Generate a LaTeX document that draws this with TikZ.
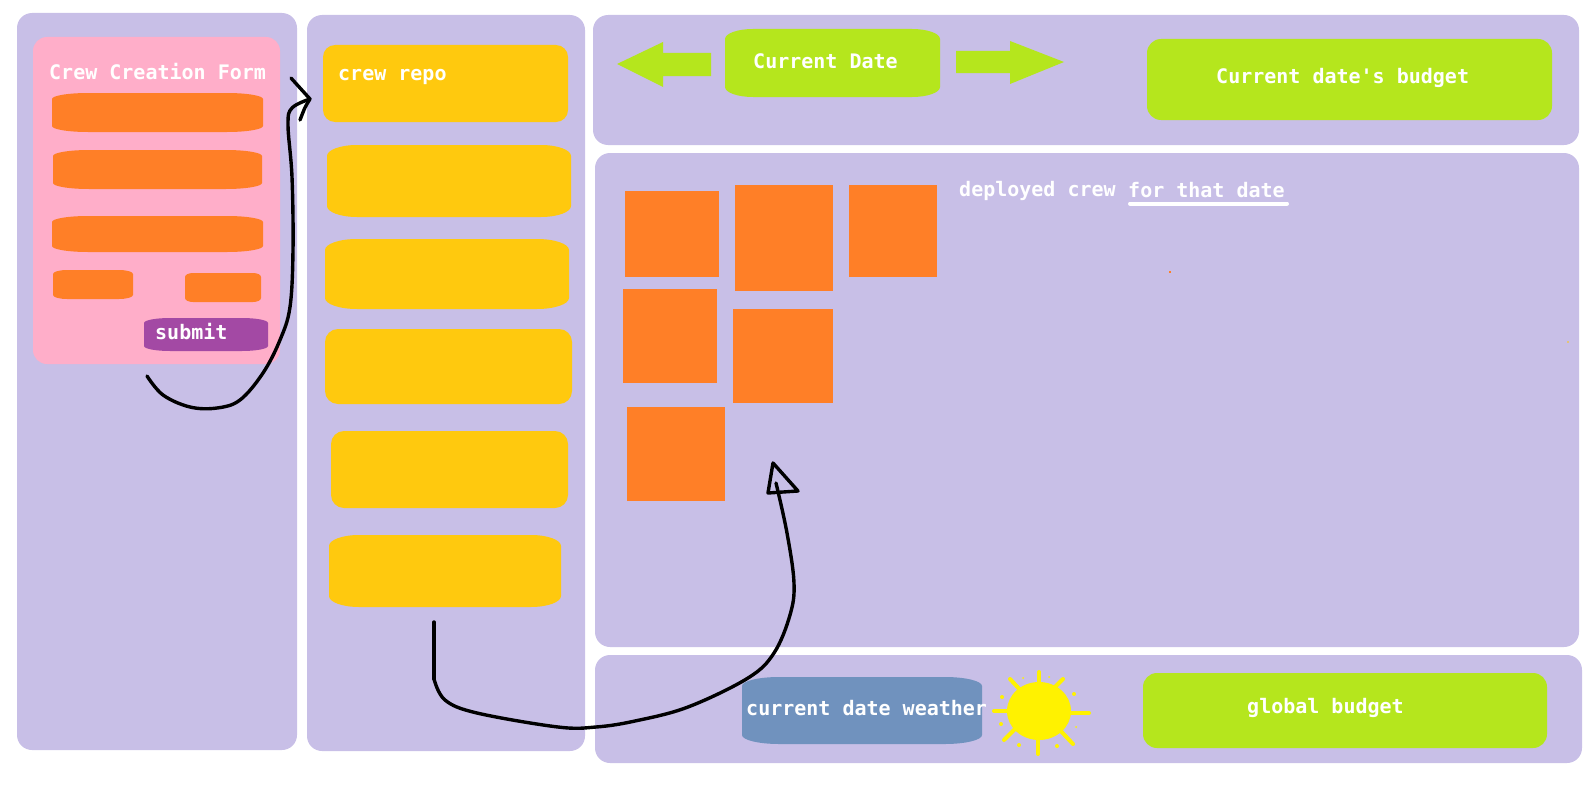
\documentclass[tikz,border=0pt]{standalone}
\usepackage{fontspec}
\setmainfont{DejaVu Sans Mono}[Ligatures=TeXOff]
\usetikzlibrary{calc}
\definecolor{panelcol}{HTML}{C8BFE7}
\definecolor{formcol}{HTML}{FFAEC9}
\definecolor{fieldcol}{HTML}{FF7F27}
\definecolor{repocol}{HTML}{FFC90E}
\definecolor{limecol}{HTML}{B5E61D}
\definecolor{submitcol}{HTML}{A349A4}
\definecolor{weathercol}{HTML}{7092BE}
\definecolor{suncol}{HTML}{FFF200}
\def\softbox[#1](#2,#3,#4,#5)(#6:#7){\fill[#1] ({#2+#6},#3) -- ({#4-#6},#3) arc[start angle=-90,end angle=0,x radius=#6,y radius=#7] -- (#4,{#5-#7}) arc[start angle=0,end angle=90,x radius=#6,y radius=#7] -- ({#2+#6},#5) arc[start angle=90,end angle=180,x radius=#6,y radius=#7] -- (#2,{#3+#7}) arc[start angle=180,end angle=270,x radius=#6,y radius=#7] -- cycle;}
\tikzset{
	boxlabel/.style={anchor=base west, inner sep=0pt, text=white, font=\fontsize{20}{20}\selectfont\bfseries},
	handline/.style={line width=3.4pt, color=black, line cap=round, line join=round},
	sunray/.style={line width=4pt, color=suncol, line cap=round}
}

\begin{document}
\begin{tikzpicture}[x=1pt, y=-1pt]
		%%%%% START %%%%%
		
		\useasboundingbox (0, 0) rectangle (1592, 784);
		
		% panels
		\softbox[panelcol](17, 13, 297, 750)(15:15);
		\softbox[panelcol](307, 15, 585, 751)(15:15);
		\softbox[panelcol](593, 15, 1579, 145)(15:15);
		\softbox[panelcol](595, 153, 1579, 647)(15:15);
		\softbox[panelcol](595, 655, 1582, 763)(15:15);
		
		% form
		\softbox[formcol](33, 37, 280, 364)(14:14);
		\softbox[fieldcol](52, 93, 263, 132)(36:6);
		\softbox[fieldcol](53, 150, 262, 189)(36:6);
		\softbox[fieldcol](52, 216, 263, 252)(36:6);
		\softbox[fieldcol](53, 270, 133, 299)(14:4);
		\softbox[fieldcol](185, 273, 261, 302)(8:4);
		\softbox[submitcol](144, 318, 268, 351)(26:5);
		\node[boxlabel] (formtitle) at (49, 79) {Crew Creation Form};
		\node[boxlabel] (submitlabel) at (155, 339) {submit};
		
		% crew repo
		\softbox[repocol](323, 45, 568, 122)(12:12);
		\softbox[repocol](327, 145, 571, 217)(30:11);
		\softbox[repocol](325, 239, 569, 309)(32:11);
		\softbox[repocol](325, 329, 572, 404)(13:13);
		\softbox[repocol](331, 431, 568, 508)(13:13);
		\softbox[repocol](329, 535, 561, 607)(30:11);
		\node[boxlabel] (repolabel) at (338, 81) {crew repo};
		
		% date bar
		\softbox[limecol](725, 29, 940, 97)(28:10);
		\fill[limecol] (617, 64) -- (663, 42) -- (663, 53) -- (711, 53) -- (711, 76) -- (663, 76) -- (663, 87) -- cycle;
		\fill[limecol] (1064, 62) -- (1010, 41) -- (1010, 51) -- (956, 51) -- (956, 73) -- (1010, 73) -- (1010, 84) -- cycle;
		\softbox[limecol](1147, 39, 1552, 120)(14:14);
		\node[boxlabel] (datelabel) at (753, 68) {Current Date};
		\node[boxlabel] (budgetlabel) at (1216, 83) {Current date's budget};
		
		% deployed crew
		\fill[fieldcol] (625, 191) rectangle (719, 277);
		\fill[fieldcol] (735, 185) rectangle (833, 291);
		\fill[fieldcol] (849, 185) rectangle (937, 277);
		\fill[fieldcol] (623, 289) rectangle (717, 383);
		\fill[fieldcol] (733, 309) rectangle (833, 403);
		\fill[fieldcol] (627, 407) rectangle (725, 501);
		\fill[fieldcol] (1169, 271) rectangle (1171, 273);
		\fill[repocol] (1568, 342) circle (0.8);
		\node[boxlabel] (deployedlabel) at (959, 196) {deployed crew};
		\node[boxlabel] (thatdatelabel) at (1128, 197) {for that date};
		\draw[line width=4pt, color=white, line cap=round] (1130, 203.5) -- (1287, 203.5);
		
		% bottom bar
		\softbox[weathercol](742, 677, 982, 744)(37:9);
		\node[boxlabel] (weatherlabel) at (746, 715) {current date weather};
		\softbox[limecol](1143, 673, 1547, 748)(14:14);
		\node[boxlabel] (globallabel) at (1247, 713) {global budget};
		
		% sun
		\fill[suncol] (1039, 711) ellipse (32 and 29);
		\draw[sunray] (1039, 672) -- (1039, 690);
		\draw[sunray] (1063, 679) -- (1050, 692);
		\draw[sunray] (1010, 679) -- (1024, 694);
		\draw[sunray] (994, 711) -- (1012, 711);
		\draw[sunray] (1068, 713) -- (1089, 713);
		\draw[sunray] (1004, 740) -- (1018, 726);
		\draw[sunray] (1073, 744) -- (1058, 728);
		\draw[sunray] (1038, 735) -- (1038, 754);
		\fill[suncol] (1023, 678) circle (1);
		\fill[suncol] (1049, 677) circle (1);
		\fill[suncol] (1074, 694) circle (2);
		\fill[suncol] (1002, 697) circle (2);
		\fill[suncol] (1001, 724) circle (2);
		\fill[suncol] (1076, 727) circle (1);
		\fill[suncol] (1019, 745) circle (2);
		\fill[suncol] (1057, 746) circle (2);
		
		% hand drawn arrows
		\coordinate (formexit) at (147, 376);
		\coordinate (repoentry) at (310, 99);
		\coordinate (repoexit) at (434, 622);
		\coordinate (crewentry) at (776, 483);
		
		\draw[handline] plot[smooth, tension=0.6] coordinates {(formexit) (163, 395) (190, 407) (217, 408) (240, 400) (263, 373) (280, 340) (290, 307) (293, 250) (292, 177) (288, 125) (292, 108) (repoentry)};
		\draw[handline] (291, 78) -- (repoentry) .. controls (305, 107) .. (300, 120);
		
		\draw[handline] (repoexit) -- (434, 679);
		\draw[handline] plot[smooth, tension=0.6] coordinates {(434, 679) (445, 700) (477, 713) (558, 727) (596, 727) (635, 721) (688, 707) (748, 678) (774, 653) (790, 615) (794, 583) (787, 533) (crewentry)};
		\draw[handline] (773, 463) -- (798, 491) -- (768, 493) -- cycle;
		
		%%%%% END %%%%%
	\end{tikzpicture}
\end{document}
